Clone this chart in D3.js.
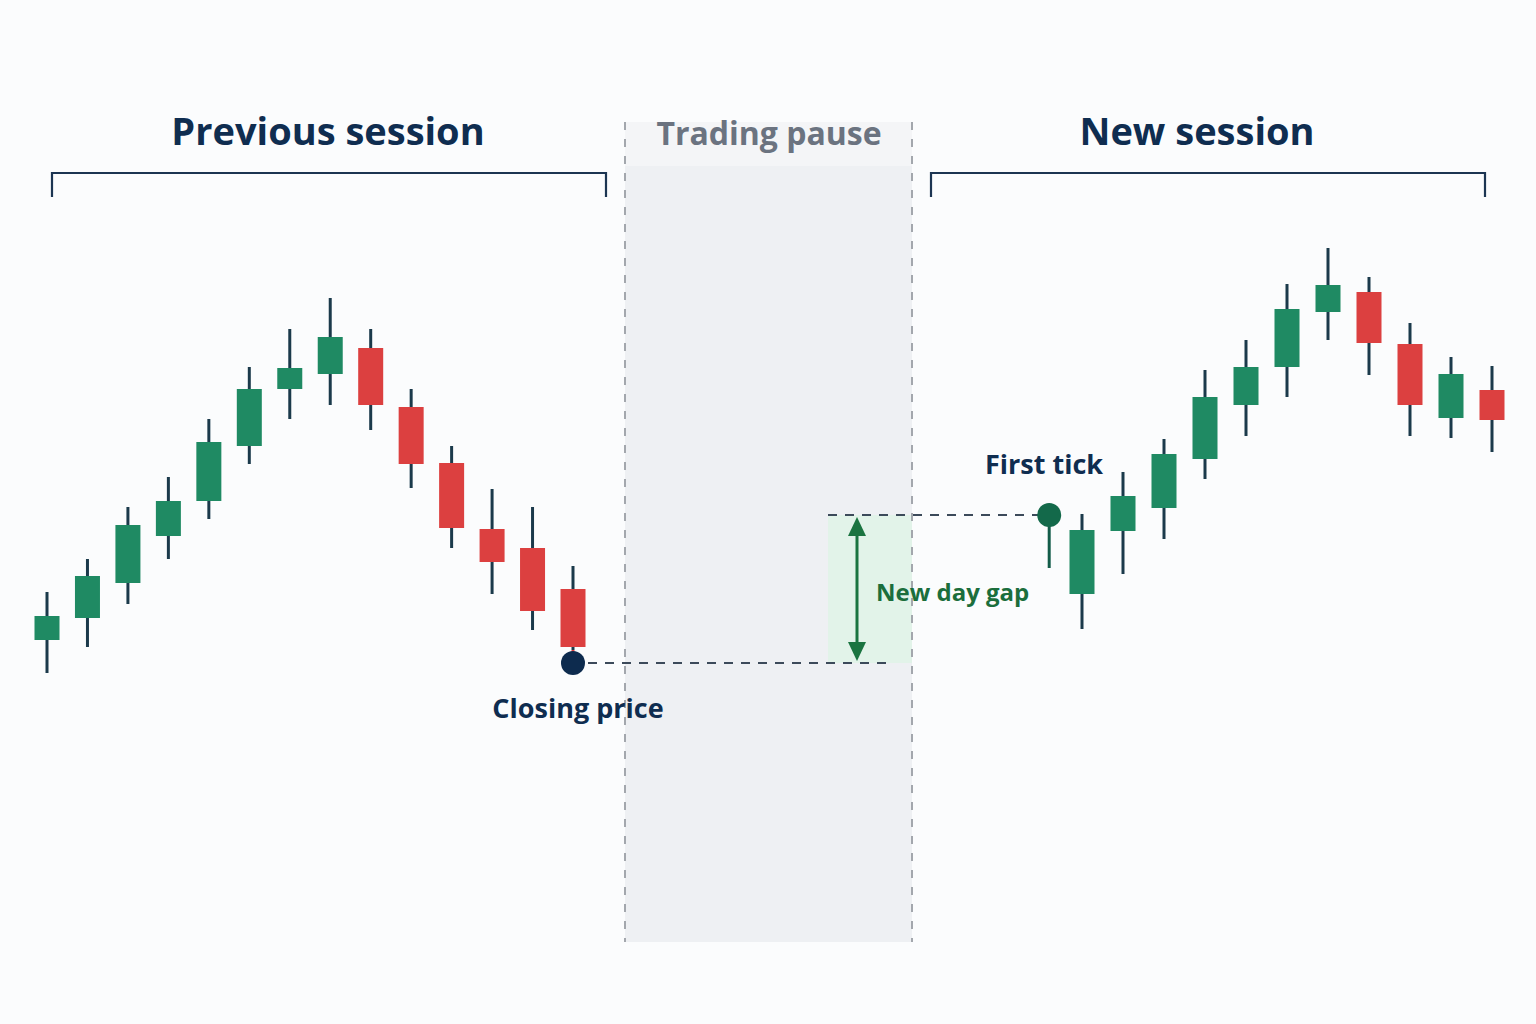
<!DOCTYPE html>
<html>
<head>
<meta charset="utf-8">
<script src="https://cdn.jsdelivr.net/npm/d3@7"></script>
<style>
  body { margin: 0; background: #fbfcfd; }
  svg { display: block; font-family: "Open Sans", "Noto Sans", sans-serif; }
</style>
</head>
<body>
<script>
// Candle data (price units, arbitrary)
const prevOpen  = [12, 16.4, 23.4, 32.8, 39.8, 50.8, 62.2, 65.2, 70.4, 58.6, 47.4, 34.2, 30.4, 22.2];
const prevHigh  = [21.6, 28.2, 38.6, 44.6, 56.2, 66.6, 74.2, 80.4, 74.2, 62.2, 50.8, 42.2, 38.6, 26.8];
const prevLow   = [5.4, 10.6, 19.2, 28.2, 36.2, 47.2, 56.2, 59, 54, 42.4, 30.4, 21.2, 14, 10];
const prevClose = [16.8, 24.8, 35, 39.8, 51.6, 62.2, 66.4, 72.6, 59, 47.2, 34.4, 27.6, 17.8, 10.6];

const newOpen  = [21.2, 33.8, 38.4, 48.2, 59, 66.6, 77.6, 81.6, 71.2, 56.4, 62];
const newHigh  = [37.2, 45.6, 52.2, 66, 72, 83.2, 90.4, 84.6, 75.4, 68.6, 66.8];
const newLow   = [14.2, 25.2, 32.2, 44.2, 52.8, 60.6, 72, 65, 52.8, 52.4, 49.6];
const newClose = [34, 40.8, 49.2, 60.6, 66.6, 78.2, 83, 71.4, 59, 65.2, 56];

const closingPrice = 7.4;
const firstTick = 37;
const firstTickLow = 26.4;
const firstTickSlot = -0.8;

const sessionLabels = ["Previous session", "Trading pause", "New session"];

const w = 1536, h = 1024;
const green = "#1f8a63", red = "#dc4040", wick = "#1b3a4b", navy = "#0f2d50";

const svg = d3.select("body").append("svg")
  .attr("width", w)
  .attr("height", h);

// scales
const y = d3.scaleLinear().domain([0, 100]).range([700, 200]);
const xPrev = d3.scaleLinear().domain([0, 13]).range([47, 573]);
const xNew = d3.scaleLinear().domain([0, 10]).range([1082, 1492]);
const bodyW = 25;

// trading pause band
const pauseX0 = 625, pauseX1 = 912;
svg.append("rect")
  .attr("x", pauseX0).attr("y", 122)
  .attr("width", pauseX1 - pauseX0).attr("height", 44)
  .attr("fill", "#f4f5f7");
svg.append("rect")
  .attr("x", pauseX0).attr("y", 166)
  .attr("width", pauseX1 - pauseX0).attr("height", 942 - 166)
  .attr("fill", "#eef0f3");

// gap highlight
svg.append("rect")
  .attr("x", 828).attr("y", y(firstTick))
  .attr("width", pauseX1 - 828).attr("height", y(closingPrice) - y(firstTick))
  .attr("fill", "#dff3e6").attr("opacity", 0.85);

[pauseX0, pauseX1].forEach(px => {
  svg.append("line")
    .attr("x1", px).attr("x2", px)
    .attr("y1", 122).attr("y2", 942)
    .attr("stroke", "#a3a7ad").attr("stroke-width", 2)
    .attr("stroke-dasharray", "8,9");
});

// titles
svg.append("text")
  .attr("x", 328).attr("y", 145)
  .attr("text-anchor", "middle")
  .attr("font-size", 38).attr("font-weight", 700)
  .attr("fill", navy)
  .text(sessionLabels[0]);
svg.append("text")
  .attr("x", 769).attr("y", 145)
  .attr("text-anchor", "middle")
  .attr("font-size", 32).attr("font-weight", 700)
  .attr("fill", "#6b7380")
  .text(sessionLabels[1]);
svg.append("text")
  .attr("x", 1197).attr("y", 145)
  .attr("text-anchor", "middle")
  .attr("font-size", 38).attr("font-weight", 700)
  .attr("fill", navy)
  .text(sessionLabels[2]);

// brackets
[[52, 606], [931, 1485]].forEach(([a, b]) => {
  svg.append("path")
    .attr("d", `M${a},197 V173 H${b} V197`)
    .attr("fill", "none")
    .attr("stroke", "#1c3552").attr("stroke-width", 2.2);
});

// dashed guide lines
svg.append("line")
  .attr("x1", 588).attr("x2", 890)
  .attr("y1", y(closingPrice)).attr("y2", y(closingPrice))
  .attr("stroke", "#3c4a5a").attr("stroke-width", 2)
  .attr("stroke-dasharray", "9,8");
svg.append("line")
  .attr("x1", 828).attr("x2", 1040)
  .attr("y1", y(firstTick)).attr("y2", y(firstTick))
  .attr("stroke", "#3c4a5a").attr("stroke-width", 2)
  .attr("stroke-dasharray", "9,8");

function drawCandles(open, high, low, close, x) {
  const data = open.map((o, i) => ({ i, o, hi: high[i], lo: low[i], c: close[i] }));
  const g = svg.append("g");
  g.selectAll("line.wick")
    .data(data)
    .enter()
    .append("line")
    .attr("class", "wick")
    .attr("x1", d => x(d.i)).attr("x2", d => x(d.i))
    .attr("y1", d => y(d.hi)).attr("y2", d => y(d.lo))
    .attr("stroke", wick).attr("stroke-width", 3);
  g.selectAll("rect.body")
    .data(data)
    .enter()
    .append("rect")
    .attr("class", "body")
    .attr("x", d => x(d.i) - bodyW / 2)
    .attr("y", d => y(Math.max(d.o, d.c)))
    .attr("width", bodyW)
    .attr("height", d => Math.abs(y(d.o) - y(d.c)))
    .attr("fill", d => d.c >= d.o ? green : red);
}

drawCandles(prevOpen, prevHigh, prevLow, prevClose, xPrev);
drawCandles(newOpen, newHigh, newLow, newClose, xNew);

// closing price marker
svg.append("line")
  .attr("x1", xPrev(13)).attr("x2", xPrev(13))
  .attr("y1", y(prevLow[13])).attr("y2", y(closingPrice))
  .attr("stroke", red).attr("stroke-width", 3);
svg.append("circle")
  .attr("cx", xPrev(13)).attr("cy", y(closingPrice))
  .attr("r", 12).attr("fill", "#0d2b4e");
svg.append("text")
  .attr("x", 578).attr("y", 718)
  .attr("text-anchor", "middle")
  .attr("font-size", 27).attr("font-weight", 700)
  .attr("fill", navy)
  .text("Closing price");

// first tick marker
svg.append("line")
  .attr("x1", xNew(firstTickSlot)).attr("x2", xNew(firstTickSlot))
  .attr("y1", y(firstTick)).attr("y2", y(firstTickLow))
  .attr("stroke", "#135c49").attr("stroke-width", 3);
svg.append("circle")
  .attr("cx", xNew(firstTickSlot)).attr("cy", y(firstTick))
  .attr("r", 12).attr("fill", "#13694a");
svg.append("text")
  .attr("x", 1044).attr("y", 474)
  .attr("text-anchor", "middle")
  .attr("font-size", 27).attr("font-weight", 700)
  .attr("fill", navy)
  .text("First tick");

// gap double arrow
const arrowColor = "#1a7440";
const ax = 857;
svg.append("line")
  .attr("x1", ax).attr("x2", ax)
  .attr("y1", y(firstTick) + 14).attr("y2", y(closingPrice) - 14)
  .attr("stroke", arrowColor).attr("stroke-width", 3);
svg.append("path")
  .attr("d", `M${ax},${y(firstTick) + 2} l-9,19 h18 Z`)
  .attr("fill", arrowColor);
svg.append("path")
  .attr("d", `M${ax},${y(closingPrice) - 2} l-9,-19 h18 Z`)
  .attr("fill", arrowColor);
svg.append("text")
  .attr("x", 876).attr("y", 601)
  .attr("font-size", 24).attr("font-weight", 700)
  .attr("fill", "#1b6e3c")
  .text("New day gap");
</script>
</body>
</html>
